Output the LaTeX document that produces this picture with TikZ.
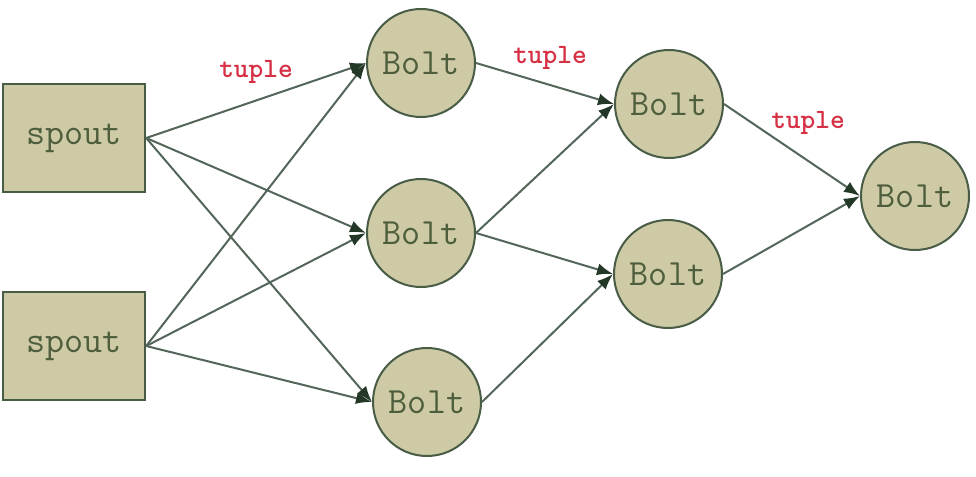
\documentclass[tikz,border=0pt]{standalone}
\usepackage{fontspec}
\usetikzlibrary{arrows.meta}
\definecolor{nodefill}{RGB}{206,202,166}
\definecolor{nodeedge}{RGB}{72,92,70}
\definecolor{nodetext}{RGB}{78,94,60}
\definecolor{linecol}{RGB}{84,102,90}
\definecolor{tipcol}{RGB}{36,56,40}
\definecolor{tuplered}{RGB}{214,48,68}
\begin{document}
\begin{tikzpicture}[x=1pt,y=-1pt,
  spoutbox/.style={draw=nodeedge,line width=2.4pt,fill=nodefill,minimum width=142pt,minimum height=108pt,inner sep=0pt,
    font=\ttfamily\fontsize{37}{40}\selectfont,text=nodetext},
  boltnode/.style={circle,draw=nodeedge,line width=2pt,fill=nodefill,minimum size=108pt,inner sep=0pt,
    font=\ttfamily\fontsize{37}{40}\selectfont,text=nodetext},
  flow/.style={draw=linecol,line width=2pt,-{Latex[length=16pt,width=12pt,color=tipcol]}},
  tuplelabel/.style={font=\ttfamily\bfseries\fontsize{28}{30}\selectfont,text=tuplered,inner sep=0pt}]
\useasboundingbox (0,0) rectangle (976,476);
\fill[white] (0,0) rectangle (976,476);
\node[spoutbox] (s1) at (74,138) {spout};
\node[spoutbox] (s2) at (74,346) {spout};
\node[boltnode] (b1) at (421,63) {Bolt};
\node[boltnode] (b2) at (421,233) {Bolt};
\node[boltnode] (b3) at (427,402) {Bolt};
\node[boltnode] (b4) at (669,104) {Bolt};
\node[boltnode] (b5) at (668,274) {Bolt};
\node[boltnode] (b6) at (915,196) {Bolt};
\draw[flow] (s1.east) -- (b1.west);
\draw[flow] (s1.east) -- (b2.west);
\draw[flow] (s1.east) -- (b3.west);
\draw[flow] (s2.east) -- (b1.west);
\draw[flow] (s2.east) -- (b2.west);
\draw[flow] (s2.east) -- (b3.west);
\draw[flow] (b1.east) -- (b4.west);
\draw[flow] (b2.east) -- (b4.west);
\draw[flow] (b2.east) -- (b5.west);
\draw[flow] (b3.east) -- (b5.west);
\draw[flow] (b4.east) -- (b6.west);
\draw[flow] (b5.east) -- (b6.west);
\node[tuplelabel] (t1) at (256,72) {tuple};
\node[tuplelabel] (t2) at (550,58) {tuple};
\node[tuplelabel] (t3) at (808,123) {tuple};
\end{tikzpicture}
\end{document}
